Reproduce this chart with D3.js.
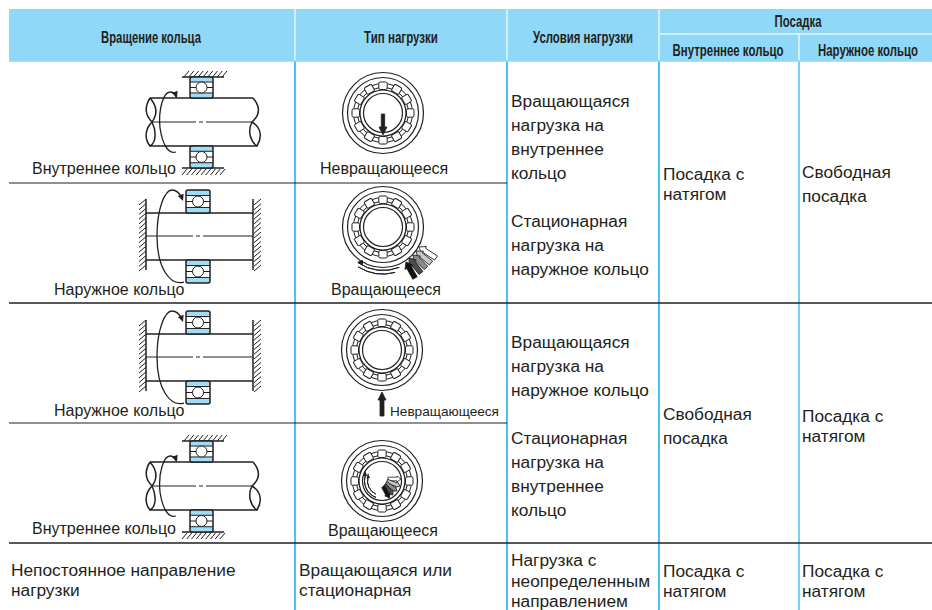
<!DOCTYPE html>
<html lang="ru">
<head>
    <meta charset="UTF-8">
    <title>Посадка колец подшипника</title>
    <script src="https://d3js.org/d3.v7.min.js"></script>
    <style>
        html, body { margin: 0; padding: 0; background: #fff; overflow: hidden; }
        text { font-family: "Liberation Sans", Arial, sans-serif; fill: #231f20; }
        .head { font-family: "Liberation Sans Narrow", "Liberation Sans", sans-serif; font-weight: bold; font-size: 16.5px; }
        .ink { fill: none; stroke: #231f20; stroke-width: 1; }
        .ink2 { fill: none; stroke: #231f20; stroke-width: 1.5; }
    </style>
</head>
<body>
    <script>
        // table contents
        const headRotation = "Вращение кольца";
        const headLoadType = "Тип нагрузки";
        const headConditions = "Условия нагрузки";
        const headFit = "Посадка";
        const headInner = "Внутреннее кольцо";
        const headOuter = "Наружное кольцо";

        const ringLabels = ["Внутреннее кольцо", "Наружное кольцо", "Наружное кольцо", "Внутреннее кольцо"];
        const loadLabels = ["Невращающееся", "Вращающееся", "Невращающееся", "Вращающееся"];
        const conditionsTop = ["Вращающаяся", "нагрузка на", "внутреннее", "кольцо", "", "Стационарная", "нагрузка на", "наружное кольцо"];
        const conditionsMid = ["Вращающаяся", "нагрузка на", "наружное кольцо", "", "Стационарная", "нагрузка на", "внутреннее", "кольцо"];
        const conditionsLast = ["Нагрузка с", "неопределенным", "направлением"];
        const fitTight = ["Посадка с", "натягом"];
        const fitLoose = ["Свободная", "посадка"];
        const lastRotation = ["Непостоянное направление", "нагрузки"];
        const lastLoad = ["Вращающаяся или", "стационарная"];

        // fan of load arrows, light to dark
        const fanShades = ["#ffffff", "#c8c8c8", "#8c8c8c", "#4d4d4d", "#111111"];
        const rollerCount = 12;

        const width = 932, height = 610;
        const headBlue = "#8fd8f8", ruleBlue = "#19b5e8", ringBlue = "#a0dcf6", ink = "#231f20";

        const colNames = ["left", "load", "cond", "inner", "outer", "end"];
        const x = d3.scaleOrdinal().domain(colNames).range([9, 295, 507, 659, 799, 932]);
        const rowNames = ["top", "sub", "head", "r1", "r2", "r3", "r4", "r5"];
        const y = d3.scaleOrdinal().domain(rowNames).range([9, 34, 61, 183, 303, 423, 543, 610]);

        const svg = d3.select("body").append("svg")
            .attr("width", width).attr("height", height)
            .style("display", "block");

        // header
        svg.append("rect")
            .attr("x", x("left")).attr("y", y("top"))
            .attr("width", x("end") - x("left")).attr("height", y("head") - y("top"))
            .attr("fill", headBlue);

        const white = svg.append("g").attr("stroke", "#e6f6fd").attr("stroke-width", 1.5);
        ["load", "cond", "inner"].forEach(c => {
            white.append("line").attr("x1", x(c)).attr("x2", x(c)).attr("y1", y("top")).attr("y2", y("head"));
        });
        white.append("line").attr("x1", x("outer")).attr("x2", x("outer")).attr("y1", y("sub")).attr("y2", y("head"));
        white.append("line").attr("x1", x("inner")).attr("x2", x("end")).attr("y1", y("sub")).attr("y2", y("sub"));

        // text, x middle, baseline, target width
        const heads = [
            [headRotation, 151, 43, 100],
            [headLoadType, 401, 43, 74],
            [headConditions, 583, 43, 100],
            [headFit, 798, 27, 47],
            [headInner, 728, 56, 111],
            [headOuter, 868, 56, 100]
        ];
        svg.selectAll("text.head").data(heads).join("text")
            .attr("class", "head")
            .attr("text-anchor", "middle")
            .text(d => d[0])
            .attr("transform", function(d) {
                const k = d[3] / this.getComputedTextLength();
                return `translate(${d[1]},${d[2]}) scale(${k},1)`;
            });

        // table rules
        ["load", "cond", "inner", "outer"].forEach(c => {
            svg.append("line").attr("x1", x(c)).attr("x2", x(c))
                .attr("y1", y("head")).attr("y2", y("r5"))
                .attr("stroke", ruleBlue).attr("stroke-width", c === "outer" ? 1.2 : 1.6);
        });
        svg.append("line").attr("x1", x("left")).attr("x2", x("end")).attr("y1", y("head")).attr("y2", y("head"))
            .attr("stroke", headBlue).attr("stroke-width", 1.5);
        [["r1", "cond", 1], ["r2", "end", 1.5], ["r3", "cond", 1], ["r4", "end", 1.5]].forEach(r => {
            svg.append("line").attr("x1", x("left")).attr("x2", x(r[1]))
                .attr("y1", y(r[0])).attr("y2", y(r[0]))
                .attr("stroke", ink).attr("stroke-width", r[2]);
        });

        // cell text
        function cellText(lines, left, first, step, size) {
            const g = svg.append("g");
            g.selectAll("text").data(lines).join("text")
                .attr("x", left)
                .attr("y", (d, i) => first + i * step)
                .attr("font-size", size)
                .text(d => d);
        }
        const bodySize = 17.3, labelSize = 16;
        cellText(conditionsTop, x("cond") + 4, 107, 24, bodySize);
        cellText(conditionsMid, x("cond") + 4, 348, 24, bodySize);
        cellText(conditionsLast, x("cond") + 4, 566, 20.5, bodySize);
        cellText(fitTight, x("inner") + 4, 180, 20, bodySize);
        cellText(fitLoose, x("outer") + 3, 178, 24, bodySize);
        cellText(fitLoose, x("inner") + 4, 420, 24, bodySize);
        cellText(fitTight, x("outer") + 3, 422, 20, bodySize);
        cellText(fitTight, x("inner") + 4, 577, 20, bodySize);
        cellText(fitTight, x("outer") + 3, 577, 20, bodySize);
        cellText(lastRotation, x("left") + 2, 576, 20, bodySize);
        cellText(lastLoad, x("load") + 4, 576, 20, bodySize);

        cellText([ringLabels[0]], 32, 174, 0, labelSize);
        cellText([ringLabels[1]], 54, 295, 0, labelSize);
        cellText([ringLabels[2]], 54, 416, 0, labelSize);
        cellText([ringLabels[3]], 32, 534, 0, labelSize);
        cellText([loadLabels[0]], 320, 174, 0, labelSize);
        cellText([loadLabels[1]], 331, 295, 0, labelSize);
        cellText([loadLabels[2]], 390, 416, 0, 13.6);
        cellText([loadLabels[3]], 328, 536, 0, labelSize);

        // hatching: short strokes along a wall
        function hatch(g, x0, y0, x1, y1, dx, dy, n) {
            d3.range(n).forEach(i => {
                const t = i / (n - 1);
                const px = x0 + (x1 - x0) * t, py = y0 + (y1 - y0) * t;
                g.append("line").attr("class", "ink")
                    .attr("x1", px).attr("y1", py).attr("x2", px + dx).attr("y2", py + dy);
            });
        }

        // section through one ball bearing
        function bearing(g, bx, by, w, h) {
            const band = h * 0.24;
            g.append("rect").attr("x", bx).attr("y", by).attr("width", w).attr("height", h)
                .attr("rx", 2).attr("fill", "#fff");
            g.append("rect").attr("x", bx).attr("y", by).attr("width", w).attr("height", band)
                .attr("fill", ringBlue);
            g.append("rect").attr("x", bx).attr("y", by + h - band).attr("width", w).attr("height", band)
                .attr("fill", ringBlue);
            g.append("line").attr("class", "ink").attr("x1", bx).attr("x2", bx + w).attr("y1", by + band).attr("y2", by + band);
            g.append("line").attr("class", "ink").attr("x1", bx).attr("x2", bx + w).attr("y1", by + h - band).attr("y2", by + h - band);
            g.append("line").attr("class", "ink").attr("x1", bx).attr("x2", bx + w).attr("y1", by + h / 2).attr("y2", by + h / 2);
            g.append("circle").attr("cx", bx + w / 2).attr("cy", by + h / 2).attr("r", 5.5)
                .attr("fill", "#fff").attr("stroke", ink).attr("stroke-width", 1);
            g.append("rect").attr("x", bx).attr("y", by).attr("width", w).attr("height", h)
                .attr("rx", 2).attr("class", "ink2");
        }

        function centerLine(g, x0, x1, cy, gapAt) {
            g.append("line").attr("class", "ink").attr("x1", x0).attr("x2", gapAt - 5).attr("y1", cy).attr("y2", cy);
            g.append("line").attr("class", "ink").attr("x1", gapAt - 2).attr("x2", gapAt + 2).attr("y1", cy).attr("y2", cy);
            g.append("line").attr("class", "ink").attr("x1", gapAt + 5).attr("x2", x1).attr("y1", cy).attr("y2", cy);
        }

        function rotationArrow(g, d, tip, angle) {
            g.append("path").attr("class", "ink").style("stroke-width", 1.3).attr("d", d);
            g.append("path").attr("fill", ink)
                .attr("transform", `translate(${tip[0]},${tip[1]}) rotate(${angle})`)
                .attr("d", "M0,0L-6.5,-3L-6.5,3Z");
        }

        // free shaft between two housings, inner ring turning
        function freeShaft(dy) {
            const g = svg.append("g").attr("transform", `translate(0,${dy})`);
            hatch(g, 184, 77, 222, 77, 5, -6, 9);
            g.append("line").attr("class", "ink2").attr("x1", 182).attr("x2", 224).attr("y1", 77).attr("y2", 77);
            hatch(g, 182, 175, 220, 175, 5, -6, 9);
            g.append("line").attr("class", "ink2").attr("x1", 182).attr("x2", 224).attr("y1", 168).attr("y2", 168);
            g.append("line").attr("class", "ink2").attr("x1", 150).attr("x2", 253).attr("y1", 98).attr("y2", 98);
            g.append("line").attr("class", "ink2").attr("x1", 150).attr("x2", 257).attr("y1", 146).attr("y2", 146);
            centerLine(g, 151, 252, 122, 201);
            g.append("path").attr("class", "ink2")
                .attr("d", "M150,98C145,106 144,114 152,122C158,114 157,106 150,98M152,122C144,130 145,140 150,146C157,142 156,130 152,122");
            g.append("path").attr("class", "ink2")
                .attr("d", "M253,98C260,106 261,114 252,122M252,122C247,132 251,142 257,146C262,138 262,128 252,122");
            bearing(g, 190, 77, 23, 21);
            bearing(g, 190, 146, 23, 22);
            rotationArrow(g, "M176,152C170,154 163,148 160,128C158,108 164,92 170,92C173,92 175,94 176,97", [177, 98], 70);
        }

        // shaft fixed between walls, outer ring turning
        function fixedShaft(dy) {
            const g = svg.append("g").attr("transform", `translate(0,${dy})`);
            g.append("line").attr("class", "ink2").attr("x1", 146).attr("x2", 146).attr("y1", 199).attr("y2", 270);
            g.append("line").attr("class", "ink2").attr("x1", 253).attr("x2", 253).attr("y1", 199).attr("y2", 270);
            hatch(g, 139, 205, 139, 271, 7, -6, 15);
            hatch(g, 254, 205, 254, 271, 7, -6, 15);
            g.append("line").attr("class", "ink2").attr("x1", 146).attr("x2", 253).attr("y1", 213).attr("y2", 213);
            g.append("line").attr("class", "ink2").attr("x1", 146).attr("x2", 253).attr("y1", 260).attr("y2", 260);
            centerLine(g, 146, 253, 236, 198);
            bearing(g, 186, 190, 24, 23);
            bearing(g, 186, 260, 24, 23);
            rotationArrow(g, "M184,282C170,286 157,268 157,236C157,208 165,190 172,190C176,190 180,194 182,198", [183, 201], 70);
        }

        // front view of a roller bearing
        function ringView(cx, cy) {
            const g = svg.append("g").attr("transform", `translate(${cx},${cy})`);
            [40.5, 35.5, 23, 19.5].forEach(r => {
                g.append("circle").attr("r", r).attr("class", "ink").style("stroke-width", 1.2);
            });
            [29.5, 25.5].forEach(r => {
                g.append("circle").attr("r", r).attr("class", "ink");
            });
            g.selectAll("rect.roller").data(d3.range(rollerCount)).join("rect")
                .attr("class", "roller")
                .attr("x", -4.2).attr("y", -31)
                .attr("width", 8.4).attr("height", 7.5).attr("rx", 1.5)
                .attr("transform", d => `rotate(${d * 360 / rollerCount})`)
                .attr("fill", "#fff").attr("stroke", ink).attr("stroke-width", 1);
            return g;
        }

        // solid load arrow, drawn from tail to tip
        function loadArrow(g, x0, y0, x1, y1, shaft, head, hlen, fill) {
            const a = Math.atan2(y1 - y0, x1 - x0) * 180 / Math.PI;
            const len = Math.hypot(x1 - x0, y1 - y0);
            g.append("path")
                .attr("transform", `translate(${x0},${y0}) rotate(${a})`)
                .attr("d", `M0,${-shaft}L${len - hlen},${-shaft}L${len - hlen},${-head}L${len},0L${len - hlen},${head}L${len - hlen},${shaft}L0,${shaft}Z`)
                .attr("fill", fill).attr("stroke", ink).attr("stroke-width", 0.8);
        }

        function arc(g, r, a0, a1) {
            g.append("path").attr("class", "ink")
                .attr("d", d3.arc()({innerRadius: r, outerRadius: r, startAngle: a0 * Math.PI / 180, endAngle: a1 * Math.PI / 180}));
        }

        freeShaft(0);
        fixedShaft(0);
        fixedShaft(121);
        freeShaft(364);

        const view1 = ringView(383, 113);
        loadArrow(view1, 0, 1, 0, 22, 1.7, 4, 8, ink);

        const view2 = ringView(383, 227);
        const fanTails = [[53, 31], [48, 36], [43, 41], [38, 46], [32, 51]];
        const fanTips = [[36, 20], [33, 24], [30, 28], [26, 31], [23, 35]];
        fanShades.forEach((c, i) => {
            loadArrow(view2, fanTails[i][0], fanTails[i][1], fanTips[i][0], fanTips[i][1], 2.5, 4.5, 6, c);
        });
        arc(view2, 43.5, 158, 215);
        arc(view2, 47, 165, 212);
        view2.append("path").attr("fill", ink).attr("d", "M-26,35L-20,33L-20,38Z");

        const view3 = ringView(382, 350);
        loadArrow(view3, 0, 66, 0, 42, 2, 4, 8, ink);

        const view4 = ringView(382, 481);
        const fan4Tails = [[6, -2], [5, 0], [4, 2], [2.5, 4], [1.3, 5.7]];
        const fan4Tips = [[19, -2], [18, 5], [15, 10], [11, 14], [7.3, 17]];
        fanShades.forEach((c, i) => {
            loadArrow(view4, fan4Tails[i][0], fan4Tails[i][1], fan4Tips[i][0], fan4Tips[i][1], 1.8, 3, 4, c);
        });
        arc(view4, 17.5, 200, 292);
        arc(view4, 14.5, 205, 285);
        view4.append("path").attr("fill", ink).attr("d", "M-17,-11L-15,-5L-18.5,-5Z");
        view4.append("path").attr("fill", ink).attr("d", "M-14,-8L-12,-3L-15.5,-3Z");
    </script>
</body>
</html>
